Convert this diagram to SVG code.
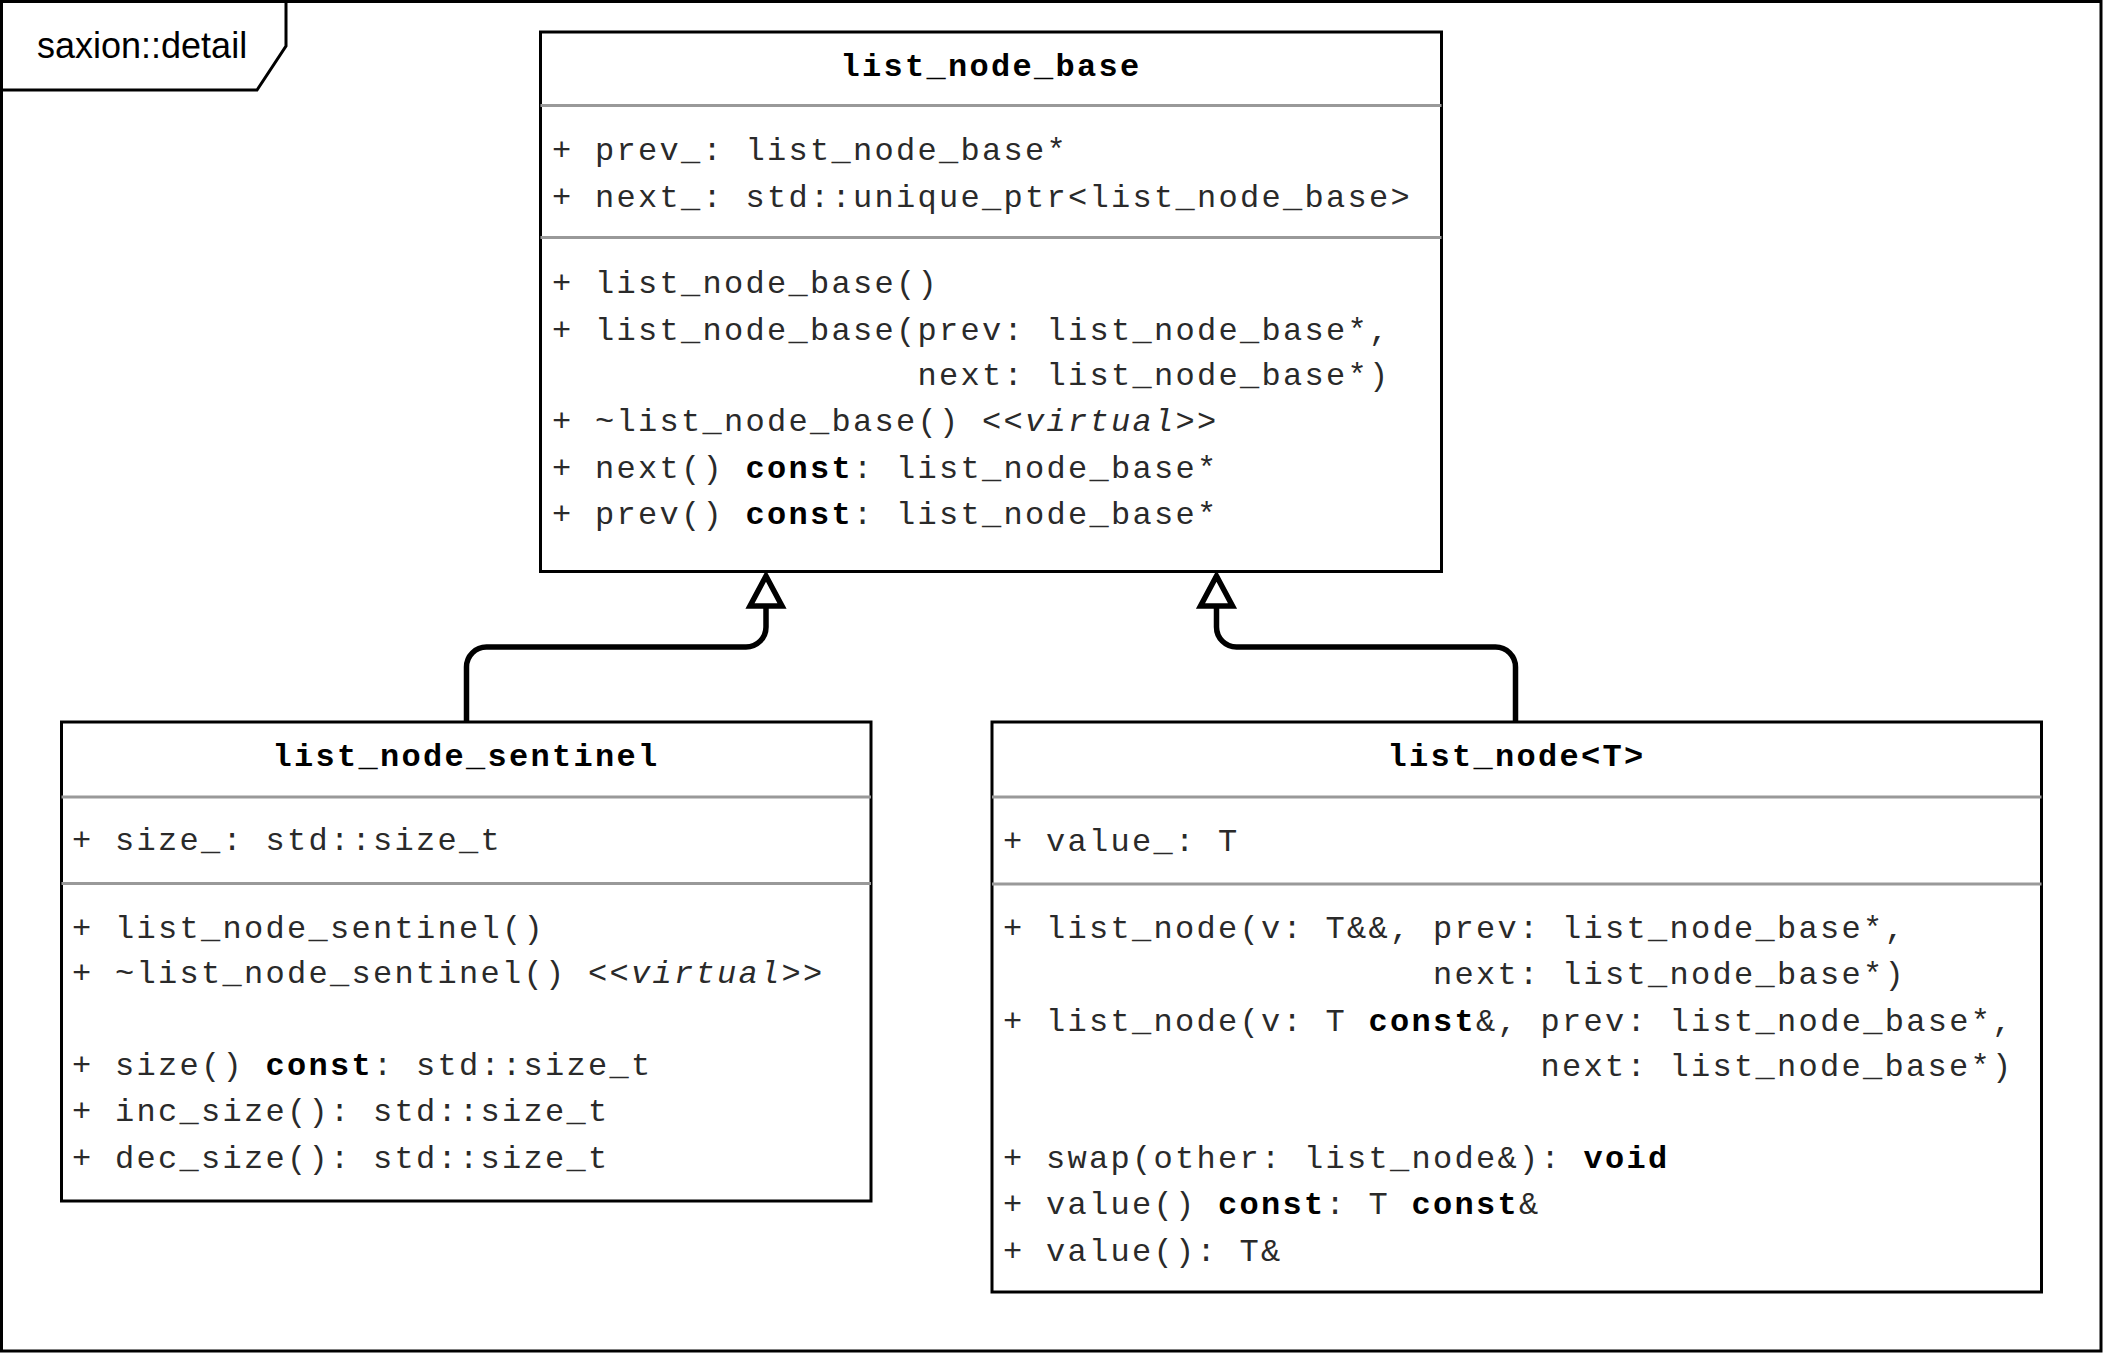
<svg xmlns="http://www.w3.org/2000/svg" width="2106" height="1356" viewBox="0 0 2106 1356">
<style>
.frame{fill:none;stroke:#000;stroke-width:3}
.box{fill:#fff;stroke:#000;stroke-width:3}
.sep{stroke:#999;stroke-width:3}
.t{font-family:"Liberation Mono","Courier New",monospace;font-size:32px;letter-spacing:2.3px;fill:#2a2a2a}
.title{font-weight:bold;text-anchor:middle;fill:#000}
.b{font-weight:bold;fill:#000}
.i{font-style:italic}
.conn{fill:none;stroke:#000;stroke-width:5.5}
.head{fill:#fff;stroke:#000;stroke-width:5.5;stroke-linejoin:miter}
.pkg{font-family:"Liberation Sans",Arial,sans-serif;font-size:36px;fill:#000}
</style>
<defs>
<marker id="inherit" markerUnits="userSpaceOnUse" viewBox="-40 -25 50 50" refX="0" refY="0" markerWidth="50" markerHeight="50" orient="auto" overflow="visible">
<polygon class="head" points="0,0 -30,-16 -30,16"/>
</marker>
</defs>
<rect x="0" y="0" width="2106" height="1356" fill="#fff"/>
<g id="package">
<rect class="frame" x="1.5" y="1.5" width="2099.5" height="1349.5"/>
<path class="frame" d="M1.5 90 H257 L286 46 V1.5"/>
<text class="pkg" x="37" y="58">saxion::detail</text>
</g>
<g id="list_node_base">
<rect class="box" x="540.5" y="32" width="901" height="539.5"/>
<line class="sep" x1="540.5" y1="105.5" x2="1441.5" y2="105.5"/>
<line class="sep" x1="540.5" y1="237.5" x2="1441.5" y2="237.5"/>
<text class="t title" x="991" y="76">list_node_base</text>
<text class="t" x="552" y="160" xml:space="preserve">+ prev_: list_node_base*</text>
<text class="t" x="552" y="207" xml:space="preserve">+ next_: std::unique_ptr&lt;list_node_base&gt;</text>
<text class="t" x="552" y="293" xml:space="preserve">+ list_node_base()</text>
<text class="t" x="552" y="340" xml:space="preserve">+ list_node_base(prev: list_node_base*,</text>
<text class="t" x="917.5" y="385" xml:space="preserve">next: list_node_base*)</text>
<text class="t" x="552" y="431" xml:space="preserve">+ ~list_node_base() <tspan class="i">&lt;&lt;virtual&gt;&gt;</tspan></text>
<text class="t" x="552" y="478" xml:space="preserve">+ next() <tspan class="b">const</tspan>: list_node_base*</text>
<text class="t" x="552" y="524" xml:space="preserve">+ prev() <tspan class="b">const</tspan>: list_node_base*</text>
</g>
<g id="list_node_sentinel">
<rect class="box" x="61.5" y="722" width="809.5" height="479"/>
<line class="sep" x1="61.5" y1="797" x2="871" y2="797"/>
<line class="sep" x1="61.5" y1="883.5" x2="871" y2="883.5"/>
<text class="t title" x="466" y="766">list_node_sentinel</text>
<text class="t" x="72" y="850" xml:space="preserve">+ size_: std::size_t</text>
<text class="t" x="72" y="938" xml:space="preserve">+ list_node_sentinel()</text>
<text class="t" x="72" y="983" xml:space="preserve">+ ~list_node_sentinel() <tspan class="i">&lt;&lt;virtual&gt;&gt;</tspan></text>
<text class="t" x="72" y="1075" xml:space="preserve">+ size() <tspan class="b">const</tspan>: std::size_t</text>
<text class="t" x="72" y="1121" xml:space="preserve">+ inc_size(): std::size_t</text>
<text class="t" x="72" y="1168" xml:space="preserve">+ dec_size(): std::size_t</text>
</g>
<g id="list_node">
<rect class="box" x="992" y="722" width="1049.5" height="570"/>
<line class="sep" x1="992" y1="797" x2="2041.5" y2="797"/>
<line class="sep" x1="992" y1="884" x2="2041.5" y2="884"/>
<text class="t title" x="1516.5" y="766">list_node&lt;T&gt;</text>
<text class="t" x="1003" y="851" xml:space="preserve">+ value_: T</text>
<text class="t" x="1003" y="938" xml:space="preserve">+ list_node(v: T&amp;&amp;, prev: list_node_base*,</text>
<text class="t" x="1433" y="984" xml:space="preserve">next: list_node_base*)</text>
<text class="t" x="1003" y="1031" xml:space="preserve">+ list_node(v: T <tspan class="b">const</tspan>&amp;, prev: list_node_base*,</text>
<text class="t" x="1540.5" y="1076" xml:space="preserve">next: list_node_base*)</text>
<text class="t" x="1003" y="1168" xml:space="preserve">+ swap(other: list_node&amp;): <tspan class="b">void</tspan></text>
<text class="t" x="1003" y="1214" xml:space="preserve">+ value() <tspan class="b">const</tspan>: T <tspan class="b">const</tspan>&amp;</text>
<text class="t" x="1003" y="1261" xml:space="preserve">+ value(): T&amp;</text>
</g>
<g id="connectors">
<path class="conn" marker-end="url(#inherit)" d="M466.5 722 V667 A20 20 0 0 1 486.5 647 H746 A20 20 0 0 0 766 627 V576"/>
<path class="conn" marker-end="url(#inherit)" d="M1515.5 722 V667 A20 20 0 0 0 1495.5 647 H1236.5 A20 20 0 0 1 1216.5 627 V576"/>
</g>
</svg>
